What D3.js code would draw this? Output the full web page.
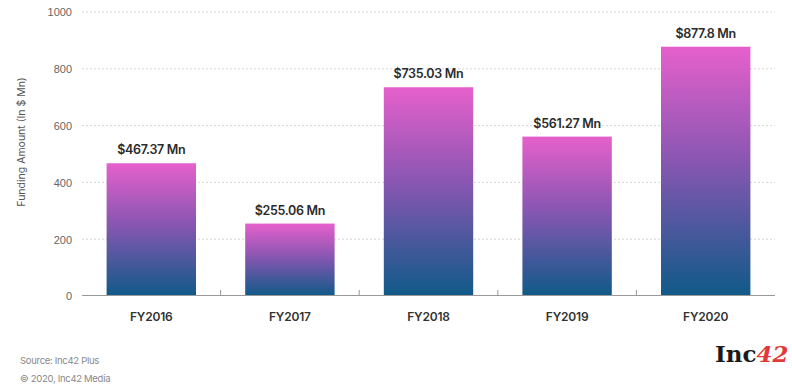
<!DOCTYPE html>
<html>
<head>
<meta charset="utf-8">
<script src="https://cdn.jsdelivr.net/npm/d3@7"></script>
<style>
  body { margin: 0; background: #fff; }
  svg { display: block; font-family: Inter, "Open Sans", sans-serif; }
</style>
</head>
<body>
<div id="chart"></div>
<script>
const years = ["FY2016", "FY2017", "FY2018", "FY2019", "FY2020"];
const funding = [467.37, 255.06, 735.03, 561.27, 877.8];
const valueLabels = ["$467.37 Mn", "$255.06 Mn", "$735.03 Mn", "$561.27 Mn", "$877.8 Mn"];
const yTicks = [0, 200, 400, 600, 800, 1000];

const width = 792, height = 387;
const plotL = 82, plotR = 775, plotT = 12, plotB = 296;

const svg = d3.select("#chart").append("svg")
  .attr("width", width).attr("height", height);

const defs = svg.append("defs");
const grad = defs.append("linearGradient")
  .attr("id", "barGrad")
  .attr("x1", "0%").attr("y1", "0%")
  .attr("x2", "0%").attr("y2", "100%");
grad.append("stop").attr("offset", "0%").attr("stop-color", "#e660cc");
grad.append("stop").attr("offset", "45%").attr("stop-color", "#8a56b2");
grad.append("stop").attr("offset", "100%").attr("stop-color", "#0f5a88");

const pad = 0.355;
const x = d3.scaleBand().domain(years).range([plotL, plotR])
  .paddingInner(pad).paddingOuter(pad / 2);
const y = d3.scaleLinear().domain([0, 1000]).range([plotB, plotT]);

// grid lines (dotted)
svg.append("g")
  .selectAll("line")
  .data(yTicks.filter(d => d > 0))
  .join("line")
    .attr("x1", plotL).attr("x2", plotR)
    .attr("y1", d => y(d)).attr("y2", d => y(d))
    .attr("stroke", "#d6d6d6")
    .attr("stroke-width", 1)
    .attr("stroke-dasharray", "2,2");

// y axis labels
const yAxis = svg.append("g")
  .attr("transform", `translate(${plotL - 10},0)`)
  .call(d3.axisLeft(y).tickValues(yTicks).tickFormat(d3.format("d")).tickSize(0).tickPadding(0));
yAxis.select(".domain").remove();
yAxis.selectAll("text")
  .attr("fill", "#666")
  .style("font-size", "11px")
  .attr("dy", "0.35em");

// bars
svg.append("g")
  .selectAll("rect")
  .data(years)
  .join("rect")
    .attr("x", d => x(d))
    .attr("width", x.bandwidth())
    .attr("y", (d, i) => y(funding[i]))
    .attr("height", (d, i) => y(0) - y(funding[i]))
    .attr("fill", "url(#barGrad)");

// value labels
svg.append("g")
  .selectAll("text")
  .data(years)
  .join("text")
    .attr("x", d => x(d) + x.bandwidth() / 2)
    .attr("y", (d, i) => y(funding[i]) - 9)
    .attr("text-anchor", "middle")
    .attr("fill", "#2b2b2b")
    .style("font-size", "12.5px")
    .style("font-weight", "600")
    .style("letter-spacing", "-0.3px")
    .text((d, i) => valueLabels[i]);

// x axis baseline + separator ticks
const xAxis = svg.append("g");
xAxis.append("line")
  .attr("x1", plotL).attr("x2", plotR)
  .attr("y1", plotB - 0.5).attr("y2", plotB - 0.5)
  .attr("stroke", "#999");
xAxis.selectAll("line.sep")
  .data(years.slice(1))
  .join("line")
    .attr("class", "sep")
    .attr("x1", d => x(d) - x.step() * pad / 2)
    .attr("x2", d => x(d) - x.step() * pad / 2)
    .attr("y1", plotB - 6).attr("y2", plotB)
    .attr("stroke", "#999");
xAxis.selectAll("text")
  .data(years)
  .join("text")
    .attr("x", d => x(d) + x.bandwidth() / 2)
    .attr("y", plotB + 25)
    .attr("text-anchor", "middle")
    .attr("fill", "#333")
    .style("font-size", "12px")
    .style("font-weight", "600")
    .style("letter-spacing", "-0.2px")
    .text(d => d);

// y title
svg.append("text")
  .attr("transform", `translate(25,${(plotT + plotB) / 2 - 12}) rotate(-90)`)
  .attr("text-anchor", "middle")
  .attr("fill", "#555")
  .style("font-size", "10.5px")
  .text("Funding Amount (In $ Mn)");

// source
svg.append("text")
  .attr("x", 20).attr("y", 364)
  .attr("fill", "#888")
  .style("font-size", "9.5px")
  .style("letter-spacing", "-0.3px")
  .text("Source: Inc42 Plus");
svg.append("text")
  .attr("x", 20).attr("y", 382)
  .attr("fill", "#888")
  .style("font-size", "9.5px")
  .style("letter-spacing", "-0.3px")
  .text("© 2020, Inc42 Media");

// logo
const logo = svg.append("text")
  .attr("x", 715).attr("y", 362)
  .style("font-family", "'DejaVu Serif', 'Liberation Serif', serif")
  .style("font-size", "23px")
  .style("font-weight", "bold");
logo.append("tspan").attr("fill", "#1a1a1a").text("Inc");
logo.append("tspan").attr("fill", "#e23a3a").style("font-style", "italic").text("42");
</script>
</body>
</html>
